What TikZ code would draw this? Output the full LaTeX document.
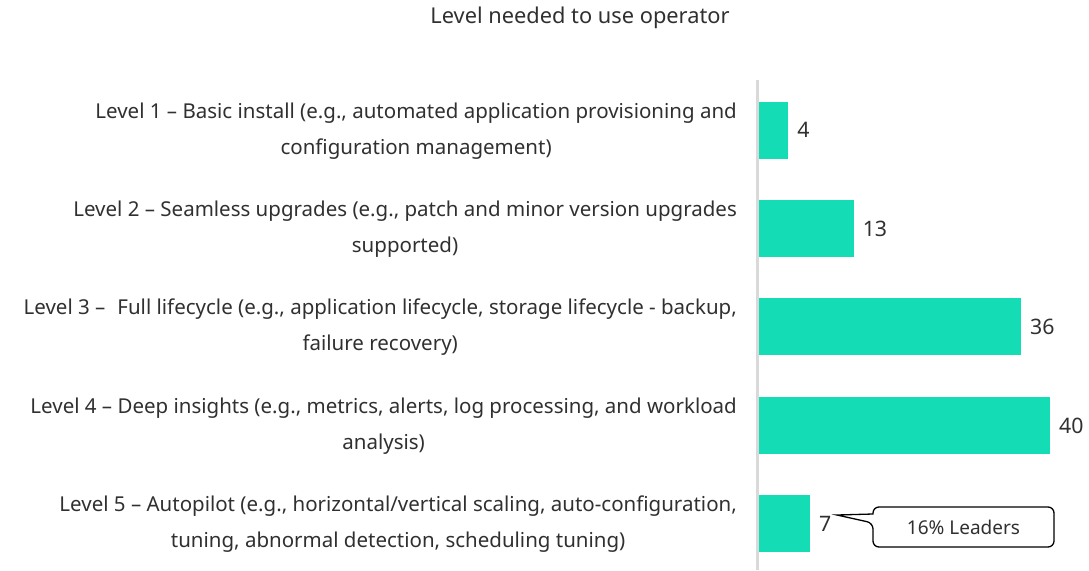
\documentclass[tikz,border=0pt]{standalone}
\usepackage{fontspec}
\setmainfont{Noto Sans}
\definecolor{barcol}{RGB}{20,221,182}
\definecolor{axiscol}{RGB}{217,217,217}
\definecolor{txt}{RGB}{48,48,48}
\begin{document}
\begin{tikzpicture}[x=1pt,y=-1pt,
  lbl/.style={anchor=east,align=center,text=txt,font=\fontsize{20.5}{36}\selectfont,inner sep=0pt},
  val/.style={anchor=west,text=txt,font=\fontsize{21.3}{24}\selectfont,inner sep=0pt},
  bar/.style={fill=barcol,draw=none}]
\useasboundingbox (0,0) rectangle (1089,570);
% title
\node[text=txt,font=\fontsize{21.8}{24}\selectfont] (title) at (580,18) {Level needed to use operator};
% axis
\draw[axiscol,line width=3pt] (757.5,80) -- (757.5,570);
% bars: 7.27 px per unit
\newcommand{\pxu}{7.275}
\foreach \v/\yc/\nm in {4/130/b1,13/228.5/b2,36/326.5/b3,40/425.5/b4,7/523.5/b5}{
  \path[bar] (759,\yc-28.5) rectangle (759+\v*\pxu,\yc+28.5);
  \coordinate (\nm) at (759+\v*\pxu,\yc);
  \node[val] (v\nm) at ([xshift=9pt]\nm) {\v};
}
% category labels
\node[lbl] (l1) at (737,131) {Level 1 -- Basic install (e.g., automated application provisioning and\\configuration management)};
\node[lbl] (l2) at (737,229.5) {Level 2 -- Seamless upgrades (e.g., patch and minor version upgrades\\supported)};
\node[lbl] (l3) at (737,327.5) {Level 3 --\hspace{12pt}Full lifecycle (e.g., application lifecycle, storage lifecycle - backup,\\failure recovery)};
\node[lbl] (l4) at (737,426.5) {Level 4 -- Deep insights (e.g., metrics, alerts, log processing, and workload\\analysis)};
\node[lbl] (l5) at (737,524.5) {Level 5 -- Autopilot (e.g., horizontal/vertical scaling, auto-configuration,\\tuning, abnormal detection, scheduling tuning)};
% callout
\coordinate (tip) at (837,515);
\draw[line width=1.3pt,rounded corners=6pt,fill=white]
  (873,514) -- (873,507) -- (1054,507) -- (1054,547) -- (873,547) -- (873,523)
  [sharp corners] -- (tip) -- cycle;
\node[text=txt,font=\fontsize{19}{22}\selectfont] (call) at (963.5,527) {16\% Leaders};
\end{tikzpicture}
\end{document}
